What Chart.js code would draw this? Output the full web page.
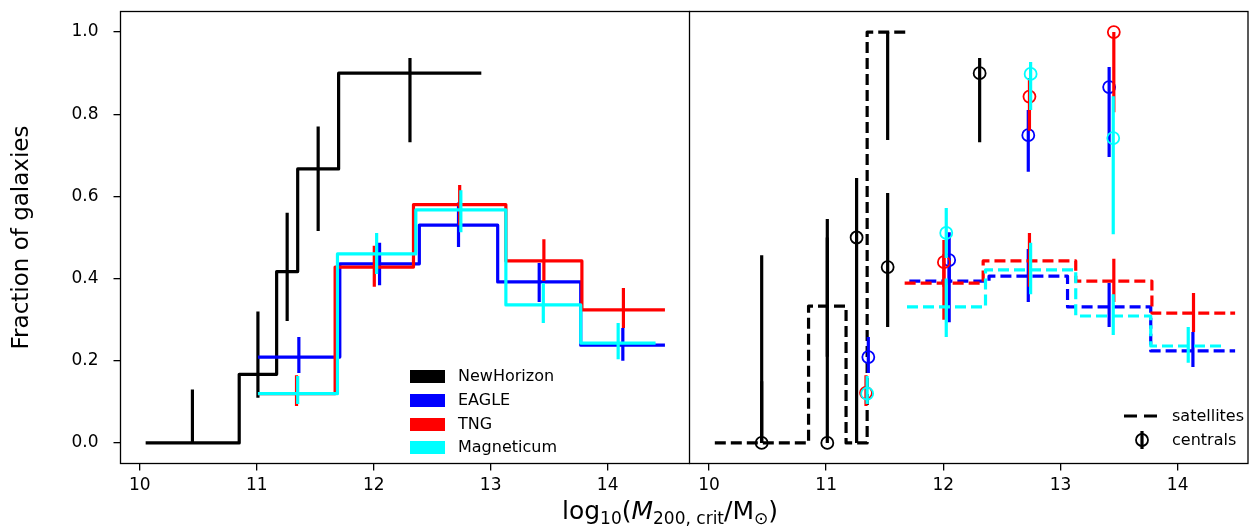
<!DOCTYPE html>
<html>
<head>
<meta charset="utf-8">
<script src="https://cdn.jsdelivr.net/npm/chart.js@4/dist/chart.umd.min.js"></script>
<style>
body { margin: 0; background: #fff; font-family: 'DejaVu Sans', sans-serif; }
#wrap { position: relative; width: 1258px; height: 526px; overflow: hidden; background: #fff; }
canvas { position: absolute; top: 0; }
.txt { position: absolute; font-size: 16px; line-height: 16px; color: #000; white-space: nowrap; }
.patch { position: absolute; width: 35px; height: 13px; }
#xlabel { position: absolute; left: 470px; width: 400px; top: 498px; text-align: center; font-size: 25px; line-height: 25px; color: #000; white-space: nowrap; }
#xlabel .sub { font-size: 0.68em; position: relative; top: 0.3em; }
</style>
</head>
<body>
<div id="wrap">
  <canvas id="left" width="690" height="526" style="left:0"></canvas>
  <canvas id="right" width="569" height="526" style="left:689px"></canvas>
  <div id="xlabel">log<span class="sub">10</span>(<i>M</i><span class="sub">200, crit</span>/M<span class="sub">⊙</span>)</div>
</div>
<script>
// ticks
const xTicks = [10, 11, 12, 13, 14];
const yTicks = [0, 0.2, 0.4, 0.6, 0.8, 1.0];

const sims = ['NewHorizon', 'EAGLE', 'TNG', 'Magneticum'];
const colors = ['#000000', '#0000ff', '#ff0000', '#00ffff'];

// NewHorizon: bin edges, all-galaxy fraction, satellites, centrals
const nhEdges = [10.05, 10.85, 11.17, 11.35, 11.70, 12.92];
const nhFrac = [0, 0.167, 0.417, 0.667, 0.9];
const nhLo = [0, 0.11, 0.297, 0.516, 0.732];
const nhHi = [0.13, 0.32, 0.56, 0.77, 0.937];
const nhSat = [0, 0.333, 0, 1.0, null];
const nhSatLo = [0, 0.21, 0, 0.737, null];
const nhSatHi = [0.15, 0.5, 0.355, 1.0, null];
const nhCen = [0, 0, 0.5, 0.428, 0.9];
const nhCenLo = [0, 0, 0.355, 0.282, 0.732];
const nhCenHi = [0.457, 0.545, 0.645, 0.608, 0.937];

// EAGLE
const eagleEdges = [11.01, 11.71, 12.39, 13.06, 13.77, 14.49];
const eagleFrac = [0.209, 0.436, 0.53, 0.392, 0.238];
const eagleLo = [0.17, 0.384, 0.477, 0.343, 0.2];
const eagleHi = [0.258, 0.487, 0.585, 0.438, 0.28];
const eagleSat = [null, 0.394, 0.406, 0.331, 0.224];
const eagleSatLo = [null, 0.294, 0.343, 0.282, 0.185];
const eagleSatHi = [null, 0.45, 0.472, 0.389, 0.27];
const eagleCen = [0.209, 0.445, 0.749, 0.866, null];
const eagleCenLo = [0.17, 0.39, 0.66, 0.696, null];
const eagleCenHi = [0.258, 0.513, 0.81, 0.915, null];

// TNG
const tngEdges = [11.01, 11.67, 12.34, 13.13, 13.78, 14.49];
const tngFrac = [0.12, 0.428, 0.58, 0.443, 0.324];
const tngLo = [0.09, 0.38, 0.53, 0.394, 0.28];
const tngHi = [0.165, 0.48, 0.628, 0.496, 0.377];
const tngSat = [null, 0.389, 0.443, 0.394, 0.316];
const tngSatLo = [null, 0.30, 0.38, 0.343, 0.27];
const tngSatHi = [null, 0.46, 0.511, 0.448, 0.365];
const tngCen = [0.122, 0.44, 0.843, 1.0, null];
const tngCenLo = [0.09, 0.38, 0.76, 0.805, null];
const tngCenHi = [0.165, 0.494, 0.888, 1.0, null];

// Magneticum
const magEdges = [11.01, 11.69, 12.36, 13.13, 13.77, 14.41];
const magFrac = [0.12, 0.46, 0.567, 0.336, 0.243];
const magLo = [0.095, 0.411, 0.513, 0.292, 0.204];
const magHi = [0.163, 0.511, 0.615, 0.389, 0.292];
const magSat = [null, 0.331, 0.421, 0.309, 0.236];
const magSatLo = [null, 0.258, 0.362, 0.263, 0.195];
const magSatHi = [null, 0.40, 0.487, 0.362, 0.282];
const magCen = [0.12, 0.511, 0.898, 0.742, null];
const magCenLo = [0.095, 0.45, 0.81, 0.508, null];
const magCenHi = [0.163, 0.572, 0.927, 0.844, null];

const edges = [nhEdges, eagleEdges, tngEdges, magEdges];
const fracs = [nhFrac, eagleFrac, tngFrac, magFrac];
const fracLo = [nhLo, eagleLo, tngLo, magLo];
const fracHi = [nhHi, eagleHi, tngHi, magHi];
const sats = [nhSat, eagleSat, tngSat, magSat];
const satLo = [nhSatLo, eagleSatLo, tngSatLo, magSatLo];
const satHi = [nhSatHi, eagleSatHi, tngSatHi, magSatHi];
const cens = [nhCen, eagleCen, tngCen, magCen];
const cenLo = [nhCenLo, eagleCenLo, tngCenLo, magCenLo];
const cenHi = [nhCenHi, eagleCenHi, tngCenHi, magCenHi];

const mids = e => e.slice(0, -1).map((v, i) => (v + e[i + 1]) / 2);

// step line through left edges, last point at the right edge
function stepPts(e, vals) {
  const pts = [];
  let last = null;
  vals.forEach((v, i) => {
    if (v === null) return;
    pts.push({ x: e[i], y: v });
    last = i;
  });
  if (last !== null) pts.push({ x: e[last + 1], y: vals[last] });
  return pts;
}

function errPts(xs, lo, hi) {
  const pts = [];
  xs.forEach((x, i) => {
    if (lo[i] === null) return;
    pts.push({ x: x, y: lo[i] }, { x: x, y: hi[i] }, { x: x, y: null });
  });
  return pts;
}

function stepSet(pts, col, dashed) {
  return { data: pts, borderColor: col, borderWidth: 3.2, stepped: 'before', pointRadius: 0,
           fill: false, borderDash: dashed ? [11, 5] : [], borderJoinStyle: 'round', borderCapStyle: 'butt' };
}
function errSet(pts, col) {
  return { data: pts, borderColor: col, borderWidth: 3.2, pointRadius: 0, fill: false,
           spanGaps: false, borderCapStyle: 'butt' };
}
function dotSet(xs, vals, col) {
  const pts = [];
  xs.forEach((x, i) => { if (vals[i] !== null) pts.push({ x: x, y: vals[i] }); });
  return { data: pts, showLine: false, pointRadius: 6, pointHoverRadius: 6, pointStyle: 'circle',
           pointBorderColor: col, pointBackgroundColor: 'rgba(0,0,0,0)', pointBorderWidth: 1.8, borderColor: col };
}

const leftSets = [];
const rightSets = [];
sims.forEach((s, k) => {
  const c = mids(edges[k]);
  leftSets.push(stepSet(stepPts(edges[k], fracs[k]), colors[k], false));
  leftSets.push(errSet(errPts(c, fracLo[k], fracHi[k]), colors[k]));
  rightSets.push(stepSet(stepPts(edges[k], sats[k]), colors[k], true));
  rightSets.push(errSet(errPts(c, satLo[k], satHi[k]), colors[k]));
  rightSets.push(errSet(errPts(c, cenLo[k], cenHi[k]), colors[k]));
  rightSets.push(dotSet(c, cens[k], colors[k]));
});
// later datasets on top
[leftSets, rightSets].forEach(a => a.forEach((d, i) => { d.order = a.length - i; }));

const frame = {
  id: 'frame',
  afterDatasetsDraw(chart) {
    const a = chart.chartArea, g = chart.ctx;
    g.save();
    g.strokeStyle = '#000';
    g.lineWidth = 1.3;
    g.strokeRect(a.left, a.top, a.right - a.left, a.bottom - a.top);
    g.restore();
  }
};

Chart.defaults.font.family = "'DejaVu Sans', sans-serif";
Chart.defaults.color = '#000';

function makeChart(id, datasets, xMin, xMax, showY, pad) {
  return new Chart(document.getElementById(id), {
    type: 'line',
    data: { datasets: datasets },
    plugins: [frame],
    options: {
      responsive: false,
      animation: false,
      devicePixelRatio: 1,
      events: [],
      layout: { padding: pad, autoPadding: false },
      plugins: { legend: { display: false }, tooltip: { enabled: false } },
      scales: {
        x: {
          type: 'linear', min: xMin, max: xMax,
          afterBuildTicks: s => { s.ticks = xTicks.map(v => ({ value: v })); },
          afterFit: s => { s.height = 62.5; s.paddingLeft = 0; s.paddingRight = 0; },
          grid: { drawOnChartArea: false, color: '#000', lineWidth: 1.3, tickLength: 7 },
          border: { display: false },
          ticks: { color: '#000', font: { size: 17 }, padding: 5, maxRotation: 0, autoSkip: false,
                   callback: v => String(v) }
        },
        y: {
          type: 'linear', min: -0.05, max: 1.05, display: showY,
          afterBuildTicks: s => { s.ticks = yTicks.map(v => ({ value: v })); },
          afterFit: s => {
            s.width = showY ? 120.5 : 0;
            s.paddingTop = 0; s.paddingBottom = 0;
          },
          grid: { drawOnChartArea: false, color: '#000', lineWidth: 1.3, tickLength: 7 },
          border: { display: false },
          ticks: { color: '#000', font: { size: 17 }, padding: 15, callback: v => Number(v).toFixed(1) },
          title: { display: true, text: 'Fraction of galaxies', color: '#000', font: { size: 23 },
                   padding: { top: 8, bottom: 0 } }
        }
      }
    }
  });
}

makeChart('left', leftSets, 9.835, 14.70, true, { top: 11.5, right: 0.5, left: 0, bottom: 0 });
makeChart('right', rightSets, 9.834, 14.60, false, { top: 11.5, right: 10, left: 0.5, bottom: 0 });

// legends (left: simulations, right: satellites / centrals)
const wrap = document.getElementById('wrap');
const legRows = [376, 400, 424, 447];
sims.forEach((s, k) => {
  const p = document.createElement('div');
  p.className = 'patch';
  p.style.left = '410px';
  p.style.top = (legRows[k] - 6.5) + 'px';
  p.style.background = colors[k];
  wrap.appendChild(p);
  const t = document.createElement('div');
  t.className = 'txt';
  t.style.left = '458px';
  t.style.top = (legRows[k] - 8) + 'px';
  t.textContent = s;
  wrap.appendChild(t);
});

const satIcon = '<svg width="36" height="6" style="position:absolute;left:1124px;top:413px"><line x1="0" y1="3" x2="36" y2="3" stroke="#000" stroke-width="3.2" stroke-dasharray="13,7"/></svg>';
const cenIcon = '<svg width="16" height="20" style="position:absolute;left:1134px;top:430px"><line x1="8" y1="1" x2="8" y2="19" stroke="#000" stroke-width="3.2"/><circle cx="8" cy="10" r="6" fill="none" stroke="#000" stroke-width="1.8"/></svg>';
wrap.insertAdjacentHTML('beforeend', satIcon + cenIcon +
  '<div class="txt" style="left:1172px;top:408px">satellites</div>' +
  '<div class="txt" style="left:1172px;top:432px">centrals</div>');
</script>
</body>
</html>
